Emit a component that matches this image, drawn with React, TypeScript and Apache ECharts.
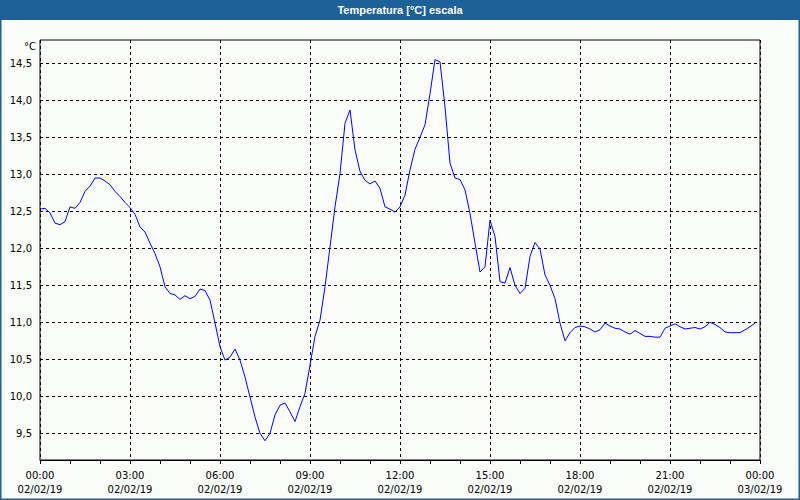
import React, { useEffect, useRef } from "react";
import * as echarts from "echarts";

const titleText = "Temperatura [°C] escala";
const unitLabel = "°C";
const stepMinutes = 10;

// Temperature readings every 10 minutes from 00:00 to 23:50 (02/02/19)
const temperatures: number[] = [
  12.53, 12.54, 12.48, 12.34, 12.32, 12.36,
  12.56, 12.54, 12.62, 12.77, 12.84, 12.95,
  12.95, 12.91, 12.86, 12.77, 12.70, 12.62,
  12.55, 12.46, 12.29, 12.22, 12.07, 11.93,
  11.75, 11.48, 11.39, 11.37, 11.31, 11.36,
  11.32, 11.35, 11.45, 11.43, 11.30, 10.99,
  10.67, 10.49, 10.53, 10.64, 10.49, 10.26,
  9.99, 9.72, 9.50, 9.40, 9.50, 9.75,
  9.88, 9.91, 9.79, 9.66, 9.86, 10.04,
  10.42, 10.81, 11.03, 11.48, 12.02, 12.56,
  13.01, 13.69, 13.87, 13.33, 13.04, 12.92,
  12.87, 12.91, 12.81, 12.56, 12.53, 12.49,
  12.56, 12.72, 13.06, 13.34, 13.50, 13.67,
  14.09, 14.55, 14.52, 13.91, 13.15, 12.95,
  12.93, 12.79, 12.47, 12.07, 11.68, 11.75,
  12.38, 12.16, 11.55, 11.53, 11.74, 11.50,
  11.39, 11.46, 11.89, 12.08, 11.99, 11.64,
  11.50, 11.32, 10.99, 10.75, 10.86, 10.93,
  10.95, 10.94, 10.91, 10.87, 10.90, 10.99,
  10.95, 10.92, 10.91, 10.87, 10.84, 10.89,
  10.85, 10.81, 10.81, 10.80, 10.80, 10.92,
  10.95, 10.98, 10.94, 10.91, 10.92, 10.93,
  10.91, 10.94, 11.00, 10.97, 10.93, 10.87,
  10.86, 10.86, 10.86, 10.90, 10.94, 10.99,
];

const xTickLabels: string[] = [
  "00:00\n02/02/19",
  "03:00\n02/02/19",
  "06:00\n02/02/19",
  "09:00\n02/02/19",
  "12:00\n02/02/19",
  "15:00\n02/02/19",
  "18:00\n02/02/19",
  "21:00\n02/02/19",
  "00:00\n03/02/19",
];

const yTicks: number[] = [9.5, 10.0, 10.5, 11.0, 11.5, 12.0, 12.5, 13.0, 13.5, 14.0, 14.5];

export default function App() {
  const ref = useRef<HTMLDivElement>(null);

  useEffect(() => {
    document.body.style.margin = "0";
    if (!ref.current) return;
    const chart = echarts.init(ref.current, null, { renderer: "svg" });

    const seriesData = temperatures.map((v, i) => [i * stepMinutes, v]);
    const font = "'DejaVu Sans', sans-serif";
    const dash = [3, 3];

    // pixel geometry of the plot
    const plotTop = 40;
    const plotBottom = 460;
    const tickTopY = 63.33;
    const pxPerUnit = 74;
    const yMaxTick = yTicks[yTicks.length - 1];
    const yMinTick = yTicks[0];
    const mainMax = yMaxTick + (tickTopY - plotTop) / pxPerUnit;
    const mainMin = yMinTick - (plotBottom - (tickTopY + (yMaxTick - yMinTick) * pxPerUnit)) / pxPerUnit;

    chart.setOption({
      animation: false,
      backgroundColor: "#f9fcf9",
      title: {
        text: titleText,
        left: "center",
        top: 4,
        padding: 0,
        textStyle: {
          color: "#ffffff",
          fontWeight: "bold",
          fontSize: 11,
          fontFamily: "'Liberation Sans', sans-serif",
        },
      },
      graphic: [
        {
          type: "rect",
          z: -10,
          shape: { x: 0, y: 0, width: 800, height: 20 },
          style: { fill: "#1d6199" },
          silent: true,
        },
        {
          type: "rect",
          z: -10,
          shape: { x: 0.75, y: 0.75, width: 798.5, height: 498.5 },
          style: { fill: "none", stroke: "#1d6199", lineWidth: 1.5 },
          silent: true,
        },
        {
          type: "text",
          x: 36,
          y: 46,
          style: {
            text: unitLabel,
            align: "right",
            verticalAlign: "middle",
            fontSize: 10,
            fontFamily: font,
            fill: "#000",
          },
        },
      ],
      grid: [
        {
          left: 40,
          top: plotTop,
          width: 720,
          height: plotBottom - plotTop,
          show: true,
          borderColor: "#000",
          borderWidth: 1,
          backgroundColor: "transparent",
        },
        {
          left: 40,
          top: tickTopY,
          width: 720,
          height: (yMaxTick - yMinTick) * pxPerUnit,
          show: false,
        },
      ],
      xAxis: [
        {
          type: "value",
          gridIndex: 0,
          position: "bottom",
          min: 0,
          max: 1440,
          interval: 180,
          axisLine: { show: true, lineStyle: { color: "#000", width: 1 } },
          axisTick: { show: false },
          axisLabel: {
            show: true,
            color: "#000",
            fontSize: 10,
            fontFamily: font,
            lineHeight: 14,
            margin: 8,
            formatter: (v: number) => xTickLabels[Math.round(v / 180)] ?? "",
          },
          splitLine: { show: true, lineStyle: { color: "#000", type: dash, width: 1 } },
        },
        {
          type: "value",
          gridIndex: 0,
          position: "bottom",
          min: 0,
          max: 1440,
          interval: 60,
          axisLine: { show: false },
          axisTick: { show: true, length: 4, lineStyle: { color: "#000", width: 1 } },
          axisLabel: { show: false },
          splitLine: { show: false },
        },
        {
          type: "value",
          gridIndex: 1,
          min: 0,
          max: 1,
          show: false,
        },
      ],
      yAxis: [
        {
          type: "value",
          gridIndex: 0,
          min: mainMin,
          max: mainMax,
          show: false,
          splitLine: { show: false },
        },
        {
          type: "value",
          gridIndex: 1,
          min: yMinTick,
          max: yMaxTick,
          interval: 0.5,
          axisLine: { show: false },
          axisTick: { show: false },
          axisLabel: {
            color: "#000",
            fontSize: 10,
            fontFamily: font,
            margin: 8,
            formatter: (v: number) => v.toFixed(1).replace(".", ","),
          },
          splitLine: { show: true, lineStyle: { color: "#000", type: dash, width: 1 } },
        },
      ],
      series: [
        {
          type: "line",
          xAxisIndex: 0,
          yAxisIndex: 0,
          data: seriesData,
          showSymbol: false,
          symbol: "none",
          lineStyle: { color: "#0000ff", width: 1 },
          z: 5,
        },
      ],
    });

    return () => chart.dispose();
  }, []);

  return (
    <div
      ref={ref}
      style={{ position: "fixed", left: 0, top: 0, width: 800, height: 500 }}
    />
  );
}
